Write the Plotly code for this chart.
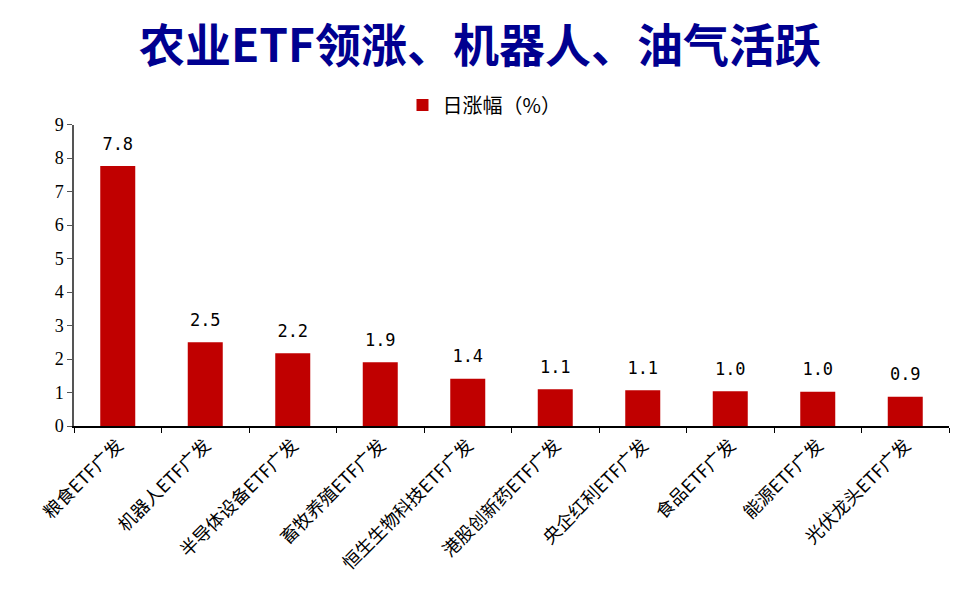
import plotly.graph_objects as go

categories = ["粮食ETF广发", "机器人ETF广发", "半导体设备ETF广发", "畜牧养殖ETF广发",
              "恒生生物科技ETF广发", "港股创新药ETF广发", "央企红利ETF广发",
              "食品ETF广发", "能源ETF广发", "光伏龙头ETF广发"]
values = [7.76, 2.50, 2.17, 1.90, 1.41, 1.10, 1.07, 1.04, 1.02, 0.87]
series_name = "日涨幅（%）"
title_text = "农业ETF领涨、机器人、油气活跃"
y_ticks = list(range(0, 10))

fig = go.Figure()
fig.add_trace(go.Bar(
    x=categories, y=values, name=series_name,
    marker=dict(color="#C00000", line=dict(width=0)),
    width=0.4,
))
fig.add_trace(go.Scatter(
    x=categories, y=values, mode="markers+text", showlegend=False,
    marker=dict(size=18, opacity=0),
    text=[f"{v:.1f}" for v in values],
    textposition="top center",
    textfont=dict(family="DejaVu Sans Mono", size=17, color="#000000"),
    cliponaxis=False, hoverinfo="skip",
))

fig.update_layout(
    width=972, height=608,
    margin=dict(l=74, r=23, t=124, b=182),
    paper_bgcolor="white", plot_bgcolor="white",
    title=dict(text=title_text, x=480 / 972, xanchor="center", y=1 - 46 / 608, yanchor="middle",
               font=dict(family="Noto Sans CJK SC", size=46, color="#000090", weight="bold")),
    showlegend=True,
    legend=dict(orientation="h", x=456 / 972, xanchor="center", yref="container",
                y=1 - 105 / 608, yanchor="middle",
                font=dict(family="Noto Sans CJK SC", size=20, color="#000000"),
                itemwidth=30),
    xaxis=dict(range=[-0.5, 9.5], showline=True, linecolor="#000000", linewidth=1.5,
               automargin=False,
               ticks="outside", tickson="boundaries", ticklen=5, tickcolor="#000000",
               tickangle=-45,
               tickfont=dict(family="Noto Sans CJK SC", size=18, color="#000000"),
               showgrid=False),
    yaxis=dict(range=[0, 9], tickvals=y_ticks, showline=True, linecolor="#555555",
               linewidth=1.5, ticks="outside", ticklen=5, tickcolor="#555555",
               automargin=False,
               tickfont=dict(family="Liberation Serif", size=18, color="#000000"),
               showgrid=False, zeroline=False),
    bargap=0.6,
)

fig.write_html("out.html", config={"displayModeBar": False},
               post_script="document.body.style.margin='0';")
